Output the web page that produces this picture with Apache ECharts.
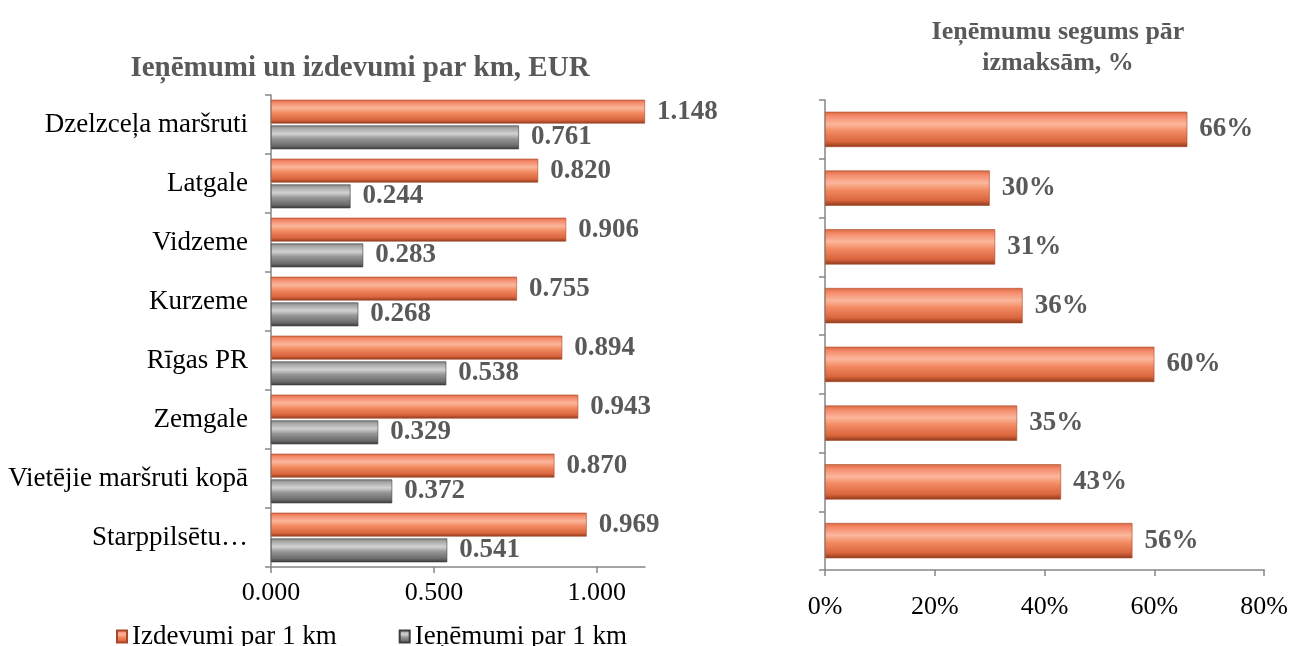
<!DOCTYPE html>
<html>
<head>
<meta charset="utf-8">
<script src="https://cdn.jsdelivr.net/npm/echarts@6/dist/echarts.min.js"></script>
<style>
  html, body { margin: 0; padding: 0; background: #fff; }
  #chart { width: 1291px; height: 646px; }
</style>
</head>
<body>
<div id="chart"></div>
<script>
// categories from top to bottom
var categories = ['Dzelzceļa maršruti', 'Latgale', 'Vidzeme', 'Kurzeme', 'Rīgas PR', 'Zemgale', 'Vietējie maršruti kopā', 'Starppilsētu…'];
var izdevumi = [1.148, 0.820, 0.906, 0.755, 0.894, 0.943, 0.870, 0.969];
var ienemumi = [0.761, 0.244, 0.283, 0.268, 0.538, 0.329, 0.372, 0.541];
var segums = [66, 30, 31, 36, 60, 35, 43, 56];
var leftTicks = [0, 0.5, 1];

var font = '"Liberation Serif", "Times New Roman", serif';

function bevel(stops) {
    return new echarts.graphic.LinearGradient(0, 0, 0, 1, stops.map(function (c) {
        return {offset: c[0], color: c[1]};
    }));
}
var orange = bevel([[0, '#D9683F'], [0.12, '#F4896A'], [0.35, '#FBB79C'], [0.55, '#F38B63'], [0.85, '#D9653D'], [1, '#8E3A1C']]);
var grey = bevel([[0, '#7E7E7E'], [0.12, '#A6A6A6'], [0.35, '#D2D2D2'], [0.55, '#979797'], [0.85, '#6A6A6A'], [1, '#3A3A3A']]);

var valueLabel = {
    show: true,
    position: 'right',
    distance: 12,
    fontFamily: font,
    fontWeight: 'bold',
    fontSize: 27,
    color: '#595959'
};
var axisColor = '#868686';

var chart = echarts.init(document.getElementById('chart'));
chart.setOption({
    animation: false,
    title: [{
        text: 'Ieņēmumi un izdevumi par km, EUR',
        left: 355, top: 49, textAlign: 'center',
        textStyle: {fontFamily: font, fontSize: 29, fontWeight: 'bold', color: '#595959'}
    }, {
        text: 'Ieņēmumu segums pār\nizmaksām, %',
        left: 1053, top: 12, textAlign: 'center',
        textStyle: {fontFamily: font, fontSize: 26, fontWeight: 'bold', color: '#595959', lineHeight: 31}
    }],
    legend: {
        data: ['Izdevumi par 1 km', 'Ieņēmumi par 1 km'],
        left: 111, top: 618,
        itemWidth: 10, itemHeight: 12, itemGap: 62,
        icon: 'rect',
        textStyle: {fontFamily: font, fontSize: 27, color: '#000'}
    },
    grid: [
        {left: 271, width: 374, top: 95, height: 472},
        {left: 825, width: 446, top: 100, height: 470}
    ],
    xAxis: [{
        gridIndex: 0, type: 'value', min: 0, max: 1.148,
        splitLine: {show: false},
        axisLine: {show: true, lineStyle: {color: axisColor, width: 1.5}},
        axisTick: {show: true, length: 6, customValues: leftTicks, lineStyle: {color: axisColor, width: 1.5}},
        axisLabel: {customValues: leftTicks, margin: 13, fontFamily: font, fontSize: 26, color: '#000',
            formatter: function (v) { return v.toFixed(3); }}
    }, {
        gridIndex: 1, type: 'value', min: 0, max: 80, interval: 20,
        splitLine: {show: false},
        axisLine: {show: true, lineStyle: {color: axisColor, width: 1.5}},
        axisTick: {show: true, length: 6, lineStyle: {color: axisColor, width: 1.5}},
        axisLabel: {margin: 24, fontFamily: font, fontSize: 26, color: '#000', formatter: '{value}%'}
    }],
    yAxis: [{
        gridIndex: 0, type: 'category', data: categories, inverse: true,
        axisLine: {show: true, lineStyle: {color: axisColor, width: 1.5}},
        axisTick: {show: true, length: 6, lineStyle: {color: axisColor, width: 1.5}},
        axisLabel: {margin: 23, fontFamily: font, fontSize: 27, color: '#000'}
    }, {
        gridIndex: 1, type: 'category', data: categories, inverse: true,
        axisLine: {show: true, lineStyle: {color: axisColor, width: 1.5}},
        axisTick: {show: true, length: 6, lineStyle: {color: axisColor, width: 1.5}},
        axisLabel: {show: false}
    }],
    series: [{
        name: 'Izdevumi par 1 km', type: 'bar', xAxisIndex: 0, yAxisIndex: 0,
        data: izdevumi,
        barCategoryGap: '16%', barGap: '8%',
        itemStyle: {color: orange, borderColor: '#A8482A', borderWidth: 0.6},
        label: Object.assign({}, valueLabel, {formatter: function (p) { return p.value.toFixed(3); }})
    }, {
        name: 'Ieņēmumi par 1 km', type: 'bar', xAxisIndex: 0, yAxisIndex: 0,
        data: ienemumi,
        itemStyle: {color: grey, borderColor: '#3E3E3E', borderWidth: 0.6},
        label: Object.assign({}, valueLabel, {formatter: function (p) { return p.value.toFixed(3); }})
    }, {
        name: 'Segums', type: 'bar', xAxisIndex: 1, yAxisIndex: 1,
        data: segums,
        barCategoryGap: '40%',
        itemStyle: {color: orange, borderColor: '#A8482A', borderWidth: 0.6},
        label: Object.assign({}, valueLabel, {formatter: '{c}%'})
    }]
});
</script>
</body>
</html>
